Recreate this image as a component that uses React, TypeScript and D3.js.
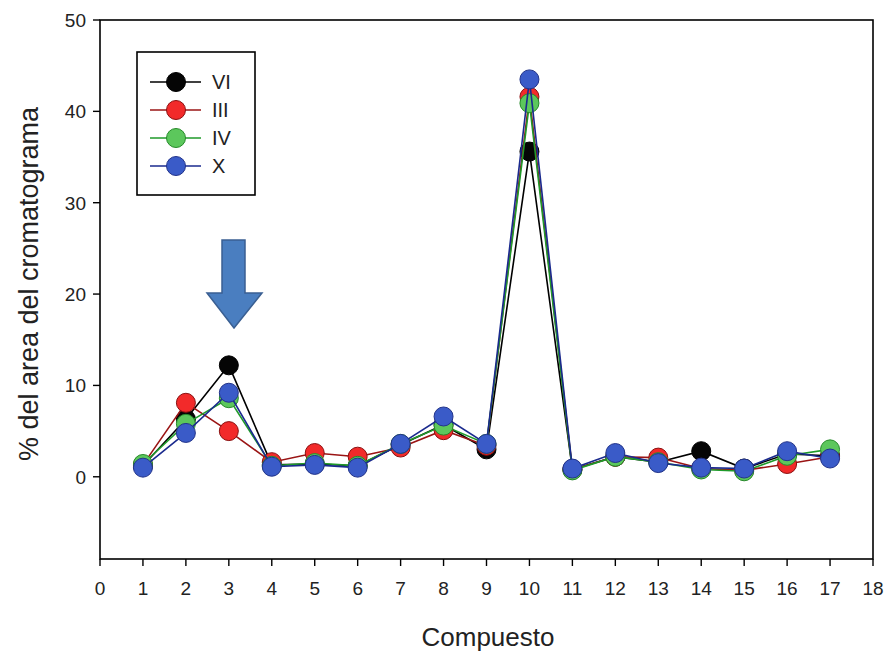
import React from "react";
import * as d3 from "d3";

// compound index on the x axis
const compuestos = [1, 2, 3, 4, 5, 6, 7, 8, 9, 10, 11, 12, 13, 14, 15, 16, 17];

// % of chromatogram area, per sample
const serieVI = [1.2, 6.3, 12.2, 1.3, 1.4, 1.2, 3.5, 5.7, 3.0, 35.6, 0.8, 2.2, 1.6, 2.8, 0.9, 2.5, 2.3];
const serieIII = [1.3, 8.1, 5.0, 1.6, 2.6, 2.2, 3.2, 5.1, 3.4, 41.6, 0.8, 2.2, 2.1, 0.9, 0.7, 1.4, 2.2];
const serieIV = [1.4, 5.8, 8.6, 1.2, 1.5, 1.2, 3.6, 5.6, 3.6, 40.9, 0.7, 2.2, 1.6, 0.8, 0.6, 2.3, 3.0];
const serieX = [1.0, 4.8, 9.2, 1.1, 1.3, 1.0, 3.6, 6.6, 3.6, 43.5, 0.9, 2.6, 1.5, 1.0, 0.9, 2.8, 2.0];

const xTicks = d3.range(0, 19);
const yTicks = [0, 10, 20, 30, 40, 50];

const series = [
  { name: "VI", values: serieVI, line: "#000000", fill: "#050505", stroke: "#000000" },
  { name: "III", values: serieIII, line: "#9a1414", fill: "#f22a2a", stroke: "#8a1010" },
  { name: "IV", values: serieIV, line: "#1f9a2a", fill: "#5cc75c", stroke: "#268a2a" },
  { name: "X", values: serieX, line: "#1a2a8e", fill: "#3a5bc8", stroke: "#22338a" },
];

const font = "'Liberation Sans', Arial, sans-serif";

export default function App() {
  const W = 887;
  const H = 656;
  const left = 100, right = 873, top = 20, bottom = 559;

  const x = d3.scaleLinear().domain([0, 18]).range([left, right]);
  const y = d3.scaleLinear().domain([-9, 50]).range([bottom, top]);

  const line = d3.line<number>()
    .x((_, i) => x(compuestos[i]))
    .y(d => y(d));

  const legendRows = [82, 110, 138, 166];

  return (
    <svg width={W} height={H} style={{ position: "absolute", left: 0, top: 0, background: "#fff" }}>
      <rect x={0} y={0} width={W} height={H} fill="#fff" />
      {/* frame */}
      <rect x={left} y={top} width={right - left} height={bottom - top} fill="none" stroke="#000" strokeWidth={1.6} />

      {/* y axis */}
      {yTicks.map(t => (
        <g key={"y" + t}>
          <line x1={left - 7} x2={left} y1={y(t)} y2={y(t)} stroke="#000" strokeWidth={1.4} />
          <text x={left - 14} y={y(t)} dy="0.36em" textAnchor="end" fontFamily={font} fontSize={19} fill="#222">{t}</text>
        </g>
      ))}

      {/* x axis */}
      {xTicks.map(t => (
        <g key={"x" + t}>
          <line x1={x(t)} x2={x(t)} y1={bottom} y2={bottom + 7} stroke="#000" strokeWidth={1.4} />
          <text x={x(t)} y={bottom + 36} textAnchor="middle" fontFamily={font} fontSize={19} fill="#222">{t}</text>
        </g>
      ))}

      <text x={488} y={646} textAnchor="middle" fontFamily={font} fontSize={26} fill="#222">Compuesto</text>
      <text transform="translate(38,284) rotate(-90)" textAnchor="middle" fontFamily={font} fontSize={27} fill="#222">
        % del area del cromatograma
      </text>

      {/* series */}
      {series.map(s => (
        <g key={s.name}>
          <path d={line(s.values) || ""} fill="none" stroke={s.line} strokeWidth={1.6} />
          {s.values.map((v, i) => (
            <circle key={i} cx={x(compuestos[i])} cy={y(v)} r={9.5} fill={s.fill} stroke={s.stroke} strokeWidth={1} />
          ))}
        </g>
      ))}

      {/* arrow */}
      <path
        d="M222,240 L245,240 L245,293 L262,293 L234,328 L207,293 L222,293 Z"
        fill="#4a7ec0"
        stroke="#3a5f92"
        strokeWidth={1.5}
      />

      {/* legend */}
      <rect x={137} y={52} width={118} height={143} fill="#fff" stroke="#000" strokeWidth={1.6} />
      {series.map((s, i) => (
        <g key={"lg" + s.name}>
          <line x1={150} x2={201} y1={legendRows[i]} y2={legendRows[i]} stroke={s.line} strokeWidth={1.6} />
          <circle cx={176} cy={legendRows[i]} r={9.5} fill={s.fill} stroke={s.stroke} strokeWidth={1} />
          <text x={212} y={legendRows[i]} dy="0.36em" fontFamily={font} fontSize={20} fill="#222">{s.name}</text>
        </g>
      ))}
    </svg>
  );
}
